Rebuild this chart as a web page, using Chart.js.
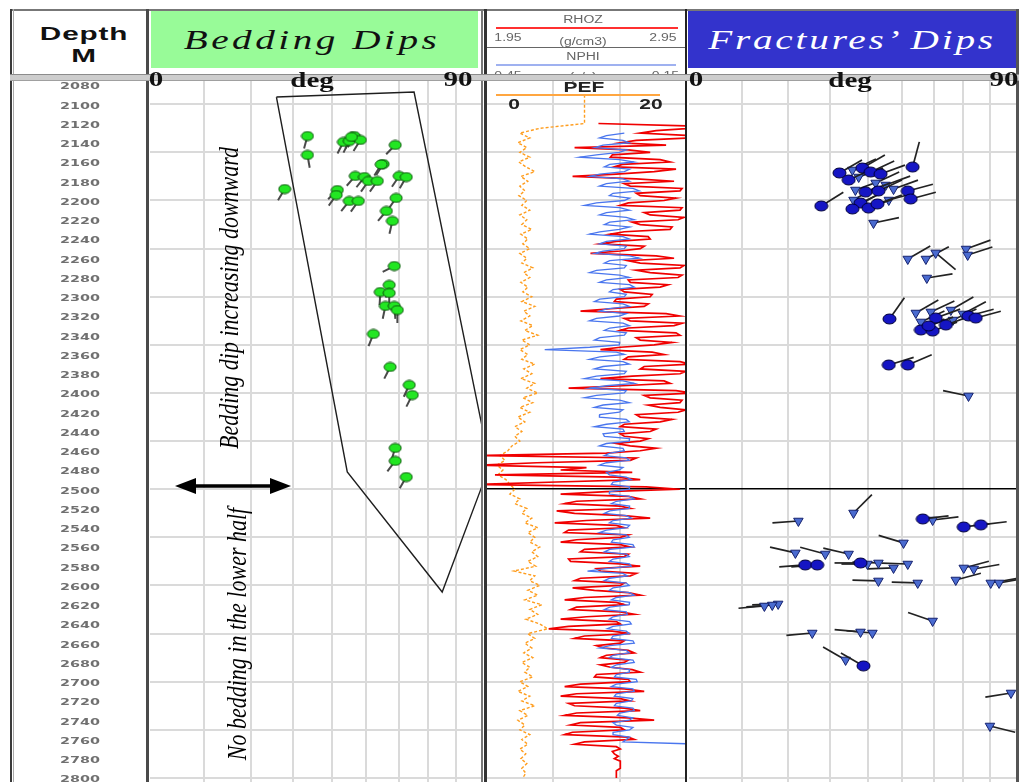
<!DOCTYPE html>
<html lang="en">
<head>
<meta charset="utf-8">
<title>Bedding and fracture dips</title>
<script src="https://cdn.jsdelivr.net/npm/chart.js@4.4.1/dist/chart.umd.min.js"></script>
<style>
  html, body { margin: 0; padding: 0; background: #fff; }
  body { width: 1019px; height: 782px; position: relative; overflow: hidden; }
  canvas { position: absolute; top: 80px; z-index: 1; }
  .box { position: absolute; z-index: 2; }
  .rule { position: absolute; z-index: 3; }
  .band { position: absolute; z-index: 4; }
  .t { position: absolute; z-index: 5; white-space: nowrap; line-height: 1; transform-origin: center; }
  .hd { font: bold 18px 'Liberation Sans', Arial, sans-serif; color: #111; letter-spacing: 0.5px; transform: translate(-50%, -50%) scaleX(1.65); }
  .title { font: italic 28px 'Liberation Serif', 'Times New Roman', serif; transform: translate(-50%, -50%) scaleX(1.4); }
  .scale { font: bold 20px 'Liberation Serif', 'Times New Roman', serif; color: #111; transform: translate(-50%, -50%) scaleX(1.45); }
  .small { font: 10px 'Liberation Sans', Arial, sans-serif; color: #666; transform: translate(-50%, -50%) scaleX(1.4); }
  .pef { font: bold 14px 'Liberation Sans', Arial, sans-serif; color: #222; transform: translate(-50%, -50%) scaleX(1.5); }
  .note { font: italic 22px 'Liberation Serif', 'Times New Roman', serif; color: #000; transform: translate(-50%, -50%) scaleX(1.2) rotate(-90deg); }
</style>
</head>
<body>

<!-- header cells -->
<div class="box" style="left:151px;top:11px;width:327px;height:57px;background:#98fb98"></div>
<div class="box" style="left:688px;top:11px;width:328px;height:57px;background:#3333cc"></div>
<div class="box" style="left:496px;top:27px;width:182px;height:2px;background:#ff3030"></div>
<div class="box" style="left:496px;top:64px;width:180px;height:2px;background:#9fb1f0"></div>
<div class="rule" style="left:487px;top:47px;width:198px;height:1px;background:#666"></div>

<div class="t hd" style="left:84px;top:34px">Depth</div>
<div class="t hd" style="left:84px;top:56px">M</div>
<div class="t title" style="left:312px;top:40px;letter-spacing:2.5px;color:#111">Bedding Dips</div>
<div class="t title" style="left:852px;top:40px;letter-spacing:2px;color:#fff">Fractures’ Dips</div>

<div class="t small" style="left:583px;top:19px">RHOZ</div>
<div class="t small" style="left:508px;top:37px">1.95</div>
<div class="t small" style="left:583px;top:41px">(g/cm3)</div>
<div class="t small" style="left:663px;top:37px">2.95</div>
<div class="t small" style="left:583px;top:56px">NPHI</div>
<div class="t small" style="left:508px;top:75px;z-index:3">0.45</div>
<div class="t small" style="left:583px;top:76px;z-index:3">(v/v)</div>
<div class="t small" style="left:663px;top:75px;z-index:3">-0.15</div>

<!-- scale band under the headers -->
<div class="band" style="left:10px;top:74px;width:1009px;height:5px;background:#cdcdcd;border-top:1px solid #8c8c8c;border-bottom:1px solid #a0a0a0"></div>
<div class="t scale" style="left:156px;top:79px">0</div>
<div class="t scale" style="left:312px;top:80px">deg</div>
<div class="t scale" style="left:458px;top:79px">90</div>
<div class="t scale" style="left:696px;top:79px">0</div>
<div class="t scale" style="left:850px;top:80px">deg</div>
<div class="t scale" style="left:1004px;top:79px">90</div>

<!-- PEF scale drawn inside the log track -->
<div class="t pef" style="left:584px;top:87px">PEF</div>
<div class="box" style="left:496px;top:94px;width:164px;height:2px;background:#ffa640;z-index:5"></div>
<div class="t pef" style="left:514px;top:104px">0</div>
<div class="t pef" style="left:651px;top:104px">20</div>

<!-- track frame -->
<div class="rule" style="left:10px;top:9px;width:1009px;height:2px;background:#777"></div>
<div class="rule" style="left:10px;top:9px;width:2px;height:773px;background:#3a3a3a"></div>
<div class="rule" style="left:13px;top:9px;width:1px;height:773px;background:#aaa"></div>
<div class="rule" style="left:146px;top:9px;width:3px;height:773px;background:#4a4a4a"></div>
<div class="rule" style="left:481px;top:9px;width:2px;height:773px;background:#777"></div>
<div class="rule" style="left:484px;top:9px;width:3px;height:773px;background:#333"></div>
<div class="rule" style="left:685px;top:9px;width:2px;height:773px;background:#222"></div>
<div class="rule" style="left:1016px;top:9px;width:3px;height:773px;background:#555"></div>

<canvas id="depthTrack" width="132" height="702" style="left:14px"></canvas>
<canvas id="beddingTrack" width="332" height="702" style="left:150px"></canvas>
<canvas id="logTrack" width="199" height="702" style="left:487px"></canvas>
<canvas id="fractureTrack" width="327" height="702" style="left:689px"></canvas>

<!-- interpretation notes on the bedding track -->
<div class="t note" style="left:230px;top:298px">Bedding dip increasing downward</div>
<div class="t note" style="left:238px;top:634px">No bedding in the lower half</div>
<svg style="position:absolute;left:170px;top:475px;z-index:5" width="126" height="22">
  <line x1="22" y1="11" x2="104" y2="11" stroke="#000" stroke-width="3.5"/>
  <polygon points="5,11 26,3 26,19" fill="#000"/>
  <polygon points="121,11 100,3 100,19" fill="#000"/>
</svg>

<script>
// ---- depth axis ----
const depthLabels = [2080, 2100, 2120, 2140, 2160, 2180, 2200, 2220, 2240, 2260, 2280, 2300, 2320, 2340,
  2360, 2380, 2400, 2420, 2440, 2460, 2480, 2500, 2520, 2540, 2560, 2580, 2600, 2620, 2640, 2660, 2680,
  2700, 2720, 2740, 2760, 2780, 2800];
const depthGrid = [2100, 2150, 2200, 2250, 2300, 2350, 2400, 2450, 2500, 2550, 2600, 2650, 2700, 2750, 2800];
const DEPTH_TOP = 2074.8;
const DEPTH_BOTTOM = 2804.2;
const TD_MARK = 2500;

// ---- dip scale gridlines (deg) ----
const dipGrid = [10, 20, 30, 40, 50, 60, 70, 80];
const logColumns = [1, 2];

// ---- bedding tadpoles ----
const bedDip = [33.6, 33.6, 27.9, 43.3, 45.0, 46.4, 48.2, 45.6, 58.9, 55.1, 54.5, 46.7, 49.4, 50.6, 53.3,
  60.2, 62.5, 41.6, 41.3, 45.0, 47.6, 59.2, 56.1, 58.0, 58.6, 57.0, 54.2, 57.0, 55.8, 58.6, 59.6, 52.1,
  57.3, 63.5, 64.5, 58.9, 58.9, 62.5];
const bedDepth = [2133.0, 2152.7, 2188.1, 2139.2, 2138.2, 2133.0, 2137.1, 2134.0, 2142.3, 2162.1, 2162.5,
  2174.5, 2175.6, 2179.7, 2179.7, 2174.5, 2175.6, 2189.1, 2194.3, 2200.5, 2200.5, 2197.4, 2210.9, 2221.3,
  2268.1, 2287.8, 2295.1, 2296.1, 2309.6, 2309.6, 2313.8, 2338.7, 2373.0, 2391.7, 2402.1, 2457.1, 2470.6, 2487.3];
const bedAzimuth = [195, 170, 211, 207, 207, 210, 212, 208, 224, 212, 212, 221, 218, 215, 215, 214, 210,
  225, 215, 219, 215, 215, 220, 193, 243, 196, 183, 180, 192, 175, 180, 202, 207, 205, 207, 197, 217, 210];

// envelope drawn around the bedding dips
const envDip = [25.9, 65.1, 93.2, 74.9, 44.4, 25.9];
const envDepth = [2092.5, 2087.3, 2474.8, 2606.8, 2482.1, 2092.5];

// ---- fracture tadpoles ('o' = conductive, 'v' = other) ----
const fracDip = [53.2, 32.4, 35.8, 38.5, 40.8, 43.6, 37.5, 42.2, 45.1, 36.6, 39.4, 43.0, 47.4, 51.7, 52.6,
  36.1, 38.0, 40.2, 42.7, 35.8, 27.8, 46.0, 41.6, 34.8,
  51.7, 57.4, 60.6, 71.0, 71.6, 57.7, 46.2, 54.2, 59.0, 65.7, 69.9, 55.8, 60.6, 64.0, 55.8, 59.6, 66.4,
  71.9, 74.5, 58.3, 46.0, 51.7, 71.9,
  22.3, 36.1, 56.4, 59.6, 70.2, 76.4, 50.4, 21.6, 28.8, 34.8, 23.9, 26.8, 38.0, 39.9, 43.0, 47.4, 51.7,
  70.2, 73.8, 43.0, 54.8, 67.4, 80.1, 83.3, 17.7, 16.4, 14.7, 59.6, 25.6, 38.0, 41.3, 34.0, 38.8, 88.0, 79.8];
const fracDepth = [2165.2, 2171.4, 2168.3, 2166.2, 2170.4, 2172.5, 2175.6, 2181.8, 2183.9, 2189.1, 2191.2,
  2190.1, 2188.1, 2190.1, 2198.4, 2199.5, 2202.6, 2207.8, 2203.6, 2208.8, 2205.7, 2199.5, 2223.4, 2178.7,
  2260.8, 2260.8, 2254.5, 2250.4, 2256.6, 2280.5, 2323.1, 2316.9, 2315.8, 2313.8, 2317.9, 2326.2, 2322.1,
  2329.4, 2334.5, 2335.6, 2324.2, 2320.0, 2322.1, 2330.4, 2370.9, 2370.9, 2403.1,
  2533.0, 2524.7, 2530.9, 2532.0, 2539.2, 2537.1, 2555.8, 2566.2, 2567.3, 2567.3, 2578.7, 2578.7, 2576.6,
  2577.7, 2576.6, 2581.8, 2577.7, 2581.8, 2582.9, 2595.3, 2597.4, 2594.3, 2597.4, 2597.4, 2619.2, 2620.3,
  2621.3, 2636.9, 2649.4, 2648.3, 2649.4, 2677.4, 2683.6, 2711.7, 2746.0];
const fracAzimuth = [15, 60, 65, 60, 65, 70, 70, 65, 70, 70, 70, 65, 70, 75, 75, 60, 65, 70, 70, 60, 58, 75, 78, 65,
  60, 62, 130, 70, 72, 81, 35, 60, 65, 60, 62, 65, 70, 70, 65, 70, 65, 75, 75, 70, 73, 67, 282,
  266, 45, 83, 83, 83, 83, 287, 283, 285, 283, 266, 266, 270, 270, 272, 268, 272, 75, 80, 272, 272, 75, 80,
  80, 268, 266, 265, 289, 265, 275, 275, 300, 300, 261, 104];
const fracKind = ['o','o','v','o','o','o','v','v','v','v','o','o','v','o','o','v','o','o','o','o','o','v','v','o',
  'v','v','v','v','v','v','o','v','v','v','v','v','o','o','o','o','v','o','o','o','o','o','v',
  'v','v','o','v','o','o','v','v','v','v','o','o','o','v','v','v','v','v','v','v','v','v','v','v','v','v',
  'v','v','v','v','v','v','o','v','v'];

// ---- log curves: top depth (m), sample step (m), values ----
const rhozTop = 2120, rhozStep = 2.5;
const rhoz = [
  2.51, 2.95, 2.98, 2.80, 2.72, 2.96, 2.97, 2.70, 2.62, 2.85, 2.39, 2.66, 2.77, 2.58, 2.57, 2.82,
  2.87, 2.63, 2.59, 2.90, 2.79, 2.60, 2.38, 2.70, 2.89, 2.64, 2.67, 2.93, 2.92, 2.70, 2.72, 2.90,
  2.84, 2.66, 2.62, 2.93, 2.92, 2.74, 2.77, 2.94, 2.91, 2.68, 2.72, 2.88, 2.87, 2.64, 2.57, 2.76,
  2.77, 2.60, 2.52, 2.74, 2.72, 2.62, 2.47, 2.80, 2.89, 2.66, 2.72, 2.94, 2.92, 2.70, 2.77, 2.93,
  2.91, 2.66, 2.67, 2.86, 2.82, 2.62, 2.64, 2.78, 2.77, 2.60, 2.59, 2.76, 2.74, 2.57, 2.42, 2.85,
  2.92, 2.64, 2.67, 2.93, 2.89, 2.66, 2.62, 2.90, 2.92, 2.70, 2.72, 2.88, 2.79, 2.62, 2.52, 2.78,
  2.84, 2.66, 2.64, 2.92, 2.97, 2.74, 2.72, 2.95, 2.92, 2.68, 2.52, 2.84, 2.87, 2.63, 2.36, 2.90,
  2.98, 2.74, 2.77, 2.93, 2.92, 2.76, 2.82, 2.95, 2.91, 2.70, 2.72, 2.88, 2.82, 2.64, 2.62, 2.80,
  2.77, 2.62, 2.64, 2.76, 2.72, 2.60, 2.67, 2.80, 2.72, 2.55, 1.90, 2.70, 2.67, 2.20, 1.92, 2.45,
  2.32, 2.68, 1.99, 2.60, 2.72, 2.30, 1.90, 2.75, 2.92, 2.55, 2.32, 2.66, 2.72, 2.40, 2.34, 2.62,
  2.67, 2.30, 2.39, 2.64, 2.77, 2.45, 2.29, 2.60, 2.64, 2.36, 2.34, 2.66, 2.62, 2.40, 2.32, 2.62,
  2.67, 2.44, 2.42, 2.66, 2.64, 2.36, 2.37, 2.62, 2.72, 2.50, 2.52, 2.70, 2.67, 2.42, 2.39, 2.64,
  2.62, 2.38, 2.49, 2.66, 2.72, 2.44, 2.34, 2.60, 2.64, 2.40, 2.37, 2.62, 2.69, 2.45, 2.32, 2.60,
  2.62, 2.36, 2.26, 2.58, 2.67, 2.44, 2.39, 2.64, 2.62, 2.50, 2.54, 2.66, 2.69, 2.55, 2.52, 2.66,
  2.64, 2.52, 2.57, 2.68, 2.72, 2.50, 2.49, 2.66, 2.67, 2.42, 2.34, 2.64, 2.74, 2.40, 2.32, 2.62,
  2.67, 2.36, 2.39, 2.64, 2.72, 2.40, 2.34, 2.66, 2.79, 2.42, 2.37, 2.62, 2.64, 2.38, 2.34, 2.66,
  2.69, 2.44, 2.39, 2.60, 2.62, 2.58, 2.59, 2.61, 2.59, 2.62, 2.62, 2.62, 2.62, 2.60, 2.60, 2.60,
  2.60];
const nphiTop = 2130, nphiStep = 2.5;
const nphi = [
  0.036, 0.090, 0.111, 0.040, 0.021, 0.100, 0.126, 0.030, 0.051, 0.120, 0.171, 0.050, 0.006, 0.080,
  0.096, 0.020, 0.036, 0.110, 0.141, 0.040, 0.021, 0.090, 0.111, 0.010, -0.009, 0.070, 0.081, 0.020,
  0.036, 0.120, 0.156, 0.050, 0.021, 0.090, 0.111, 0.030, 0.006, 0.080, 0.096, 0.020, 0.051, 0.110,
  0.141, 0.040, 0.021, 0.090, 0.111, 0.030, 0.036, 0.100, 0.126, 0.020, -0.009, 0.080, 0.096, 0.030,
  0.036, 0.120, 0.141, 0.050, 0.021, 0.090, 0.111, 0.020, 0.006, 0.070, 0.081, 0.030, 0.036, 0.110,
  0.126, 0.040, 0.021, 0.090, 0.111, 0.030, 0.051, 0.120, 0.141, 0.040, 0.021, 0.080, 0.096, 0.030,
  0.036, 0.110, 0.126, 0.050, 0.051, 0.140, 0.276, 0.060, 0.036, 0.110, 0.141, 0.040, 0.021, 0.100,
  0.126, 0.030, 0.036, 0.120, 0.156, 0.040, 0.006, 0.090, 0.141, 0.030, 0.036, 0.120, 0.156, 0.050,
  0.021, 0.100, 0.126, 0.040, 0.051, 0.110, 0.111, 0.030, 0.021, 0.090, 0.126, 0.040, 0.036, 0.100,
  0.096, 0.020, 0.021, 0.090, 0.111, 0.040, 0.036, 0.080, 0.096, 0.030, 0.021, 0.090, 0.111, 0.040,
  0.051, 0.090, 0.081, 0.030, 0.015, 0.070, 0.075, 0.020, 0.021, 0.080, 0.081, 0.020, 0.006, 0.060,
  0.075, 0.020, 0.021, 0.080, 0.096, 0.030, 0.015, 0.070, 0.081, 0.020, 0.027, 0.090, 0.111, 0.030,
  0.021, 0.070, 0.075, 0.010, 0.006, 0.080, 0.096, 0.030, 0.021, 0.070, 0.081, 0.020, 0.015, 0.090,
  0.147, 0.040, 0.027, 0.080, 0.096, 0.030, 0.021, 0.070, 0.081, 0.020, 0.006, 0.060, 0.075, 0.020,
  0.021, 0.080, 0.096, 0.030, 0.027, 0.070, 0.081, 0.020, 0.015, 0.070, 0.087, 0.030, 0.021, 0.070,
  0.075, 0.010, 0.006, 0.080, 0.111, 0.030, 0.021, 0.070, 0.081, 0.010, 0.006, 0.060, 0.075, 0.020,
  0.021, 0.060, 0.066, 0.000, -0.003, 0.060, 0.075, 0.010, 0.006, 0.060, 0.066, 0.010, 0.015, 0.060,
  0.066, 0.010, 0.006, 0.050, 0.057, 0.010, 0.021, 0.070, 0.060, 0.010, 0.020, 0.070, 0.070, 0.020,
  0.030, 0.040, -0.200];
const pefTop = 2090, pefStep = 5;
const pef = [9.8, 9.8, 9.8, 9.8, 9.8, 9.8, 9.8,
  5.3, 3.3, 4.3, 3.1, 4.0, 3.3, 4.3, 3.2, 3.9, 4.8, 3.4, 4.1, 3.3, 3.8, 3.2, 4.0, 3.5, 4.3, 3.3, 4.0, 3.5,
  4.5, 3.4, 4.1, 3.6, 4.3, 3.3, 4.0, 3.5, 4.6, 3.7, 4.3, 3.4, 4.1, 3.6, 4.5, 3.5, 4.8, 3.7, 4.3, 3.4, 4.6,
  3.8, 5.1, 3.5, 4.3, 3.3, 4.1, 3.5, 4.8, 3.7, 4.5, 3.4, 4.8, 4.0, 5.1, 3.6, 4.6, 3.3, 4.3, 3.1, 3.8, 2.8,
  3.5, 2.8, 3.3, 2.5, 2.1, 1.3, 1.8, 1.0, 1.6, 1.1, 1.9, 2.3, 2.8, 2.3, 3.3, 2.8, 4.0, 3.5, 4.5, 3.8, 5.1,
  4.1, 4.8, 4.3, 5.3, 4.5, 5.1, 4.1, 4.9, 2.7, 4.8, 4.3, 5.3, 4.1, 5.1, 3.8, 5.5, 4.3, 5.1, 3.9, 5.3, 6.1,
  4.1, 4.8, 3.8, 4.5, 3.7, 4.6, 3.5, 4.3, 3.8, 4.6, 3.3, 4.1, 3.1, 4.3, 3.5, 4.8, 3.3, 4.1, 3.1, 3.8, 3.3,
  4.3, 3.5, 4.1, 3.3, 3.9, 3.4, 4.0, 3.5, 3.9, 3.6];

// ---------------------------------------------------------------------------
Chart.defaults.animation = false;
Chart.defaults.responsive = false;
Chart.defaults.devicePixelRatio = 1;
Chart.defaults.events = [];
Chart.defaults.plugins.legend.display = false;
Chart.defaults.plugins.tooltip.enabled = false;

// every track shares one depth-to-pixel mapping, so no automatic padding
const TRACK_LAYOUT = { autoPadding: false, padding: 0 };

// Dip axis: compressed toward steep dips, position ~ ln(1 + dip/70)
const DIP_K = 70;
class DipScale extends Chart.LinearScale {
  getPixelForValue(value) {
    const t = Math.log(1 + value / DIP_K) / Math.log(1 + this.max / DIP_K);
    return this.getPixelForDecimal(t);
  }
  getValueForPixel(pixel) {
    const t = this.getDecimalForPixel(pixel);
    return DIP_K * (Math.pow(1 + this.max / DIP_K, t) - 1);
  }
}
DipScale.id = 'dip';
DipScale.defaults = Chart.LinearScale.defaults;
Chart.register(DipScale);

// Tadpole tails: a stick from each head toward its dip azimuth (north up)
const tadpoleTails = {
  id: 'tadpoleTails',
  beforeDatasetDraw(chart, args) {
    const ds = chart.data.datasets[args.index];
    if (!ds.azimuths) return;
    const ctx = chart.ctx, a = chart.chartArea;
    ctx.save();
    ctx.beginPath();
    ctx.rect(a.left, a.top, a.right - a.left, a.bottom - a.top);
    ctx.clip();
    ctx.strokeStyle = ds.tailColor;
    ctx.lineWidth = ds.tailWidth;
    args.meta.data.forEach((pt, i) => {
      const r = ds.azimuths[i] * Math.PI / 180;
      ctx.beginPath();
      ctx.moveTo(pt.x, pt.y);
      ctx.lineTo(pt.x + Math.sin(r) * ds.tailLength, pt.y - Math.cos(r) * ds.tailLength);
      ctx.stroke();
    });
    ctx.restore();
  }
};

// Wide depth numerals: the label layer is stretched horizontally from its left edge
const LABEL_LEFT = 46;
const LABEL_FONT = { family: 'DejaVu Sans', weight: 'bold', size: 9 };
const LABEL_WIDTH = 40;
const stretchedLabels = {
  id: 'stretchedLabels',
  beforeDraw(chart) {
    const ctx = chart.ctx;
    ctx.save();
    ctx.font = 'bold 9px "DejaVu Sans"';
    const w = ctx.measureText('2080').width || 25;
    const k = LABEL_WIDTH / w;
    ctx.translate(LABEL_LEFT, 0);
    ctx.scale(k, 1);
    ctx.translate(-LABEL_LEFT, 0);
  },
  afterDraw(chart) { chart.ctx.restore(); }
};

function headImage(w, h, fill, stroke) {
  const c = document.createElement('canvas');
  c.width = w + 2; c.height = h + 2;
  const g = c.getContext('2d');
  g.beginPath();
  g.ellipse(c.width / 2, c.height / 2, w / 2, h / 2, 0, 0, Math.PI * 2);
  g.fillStyle = fill; g.fill();
  g.lineWidth = 1; g.strokeStyle = stroke; g.stroke();
  return c;
}

function depthScale(markTD) {
  return {
    type: 'linear', reverse: true, min: DEPTH_TOP, max: DEPTH_BOTTOM, position: 'left',
    border: { display: false },
    ticks: { display: false },
    grid: {
      drawTicks: false,
      color: c => (markTD && c.tick && c.tick.value === TD_MARK) ? '#000' : '#dadada',
      lineWidth: c => (markTD && c.tick && c.tick.value === TD_MARK) ? 1.6 : 2
    },
    afterBuildTicks: s => { s.ticks = depthGrid.map(v => ({ value: v })); },
    afterFit: s => { s.paddingTop = 0; s.paddingBottom = 0; }
  };
}

function dipScale() {
  return {
    type: 'dip', min: 0, max: 90, position: 'top', axis: 'x',
    border: { display: false },
    ticks: { display: false },
    grid: { drawTicks: false, color: '#dadada', lineWidth: 2 },
    afterBuildTicks: s => { s.ticks = dipGrid.map(v => ({ value: v })); },
    afterFit: s => { s.height = 0; s.paddingLeft = 0; s.paddingRight = 0; }
  };
}

const points = (xs, ys) => xs.map((x, i) => ({ x: x, y: ys[i] }));
const curve = (top, step, values) => values.map((v, i) => ({ x: v, y: top + i * step }));

// ---- depth column ----
new Chart(document.getElementById('depthTrack'), {
  type: 'scatter',
  data: { datasets: [] },
  options: {
    layout: { autoPadding: false, padding: { left: LABEL_LEFT, right: 0, top: 0, bottom: 0 } },
    scales: {
      x: { display: false, min: 0, max: 1 },
      y: {
        type: 'linear', reverse: true, min: DEPTH_TOP, max: DEPTH_BOTTOM, position: 'left',
        border: { display: false },
        grid: { display: false, drawTicks: false },
        ticks: {
          crossAlign: 'far', padding: 0, labelOffset: 2, autoSkip: false, color: '#707070',
          font: LABEL_FONT,
          callback: v => String(v)
        },
        afterBuildTicks: s => { s.ticks = depthLabels.map(v => ({ value: v })); },
        afterFit: s => { s.paddingTop = 0; s.paddingBottom = 0; }
      }
    }
  },
  plugins: [stretchedLabels]
});

// ---- bedding dips ----
new Chart(document.getElementById('beddingTrack'), {
  type: 'scatter',
  data: {
    datasets: [
      {
        label: 'Bedding dip', data: points(bedDip, bedDepth),
        pointStyle: headImage(12, 9, '#22e622', '#0b4d0b'), pointRadius: 5,
        azimuths: bedAzimuth, tailColor: '#4a4a4a', tailWidth: 2, tailLength: 13, order: 0
      },
      {
        label: 'Envelope', data: points(envDip, envDepth), showLine: true,
        borderColor: '#1e1e1e', borderWidth: 1.4, pointRadius: 0, tension: 0, order: 1
      }
    ]
  },
  options: {
    layout: TRACK_LAYOUT,
    scales: { x: dipScale(), y: depthScale(false) }
  },
  plugins: [tadpoleTails]
});

// ---- log curves ----
new Chart(document.getElementById('logTrack'), {
  type: 'scatter',
  data: {
    datasets: [
      {
        label: 'NPHI', data: curve(nphiTop, nphiStep, nphi), xAxisID: 'nphi', showLine: true,
        borderColor: '#4a76ee', borderWidth: 1.3, pointRadius: 0, order: 0
      },
      {
        label: 'RHOZ', data: curve(rhozTop, rhozStep, rhoz), xAxisID: 'rhoz', showLine: true,
        borderColor: '#f00000', borderWidth: 1.7, pointRadius: 0, order: 1
      },
      {
        label: 'PEF', data: curve(pefTop, pefStep, pef), xAxisID: 'pef', showLine: true,
        borderColor: '#ff9d1e', borderWidth: 1.4, borderDash: [3, 2], pointRadius: 0, order: 2
      }
    ]
  },
  options: {
    layout: TRACK_LAYOUT,
    scales: {
      cols: {
        type: 'linear', axis: 'x', position: 'top', min: 0, max: 3,
        border: { display: false }, ticks: { display: false },
        grid: { drawTicks: false, color: '#dadada', lineWidth: 2 },
        afterBuildTicks: s => { s.ticks = logColumns.map(v => ({ value: v })); },
        afterFit: s => { s.height = 0; s.paddingLeft = 0; s.paddingRight = 0; }
      },
      rhoz: { type: 'linear', axis: 'x', position: 'top', min: 1.95, max: 2.95, display: false },
      nphi: { type: 'linear', axis: 'x', position: 'top', min: -0.15, max: 0.45, reverse: true, display: false },
      pef: { type: 'linear', axis: 'x', position: 'top', min: 0, max: 20, display: false },
      y: depthScale(true)
    }
  }
});

// ---- fracture dips ----
const fracSet = kind => {
  const idx = fracKind.map((k, i) => k === kind ? i : -1).filter(i => i >= 0);
  return {
    data: idx.map(i => ({ x: fracDip[i], y: fracDepth[i] })),
    az: idx.map(i => fracAzimuth[i])
  };
};
const fracOpen = fracSet('v');
const fracCond = fracSet('o');

new Chart(document.getElementById('fractureTrack'), {
  type: 'scatter',
  data: {
    datasets: [
      {
        label: 'Conductive fracture', data: fracCond.data,
        pointStyle: headImage(13, 10, '#1515c4', '#000038'), pointRadius: 6,
        azimuths: fracCond.az, tailColor: '#222', tailWidth: 1.7, tailLength: 26, order: 0
      },
      {
        label: 'Fracture', data: fracOpen.data,
        pointStyle: 'triangle', rotation: 180, pointRadius: 5.5,
        backgroundColor: '#4a6bd0', borderColor: '#16226e', borderWidth: 1,
        azimuths: fracOpen.az, tailColor: '#222', tailWidth: 1.7, tailLength: 26, order: 1
      }
    ]
  },
  options: {
    layout: TRACK_LAYOUT,
    scales: { x: dipScale(), y: depthScale(true) }
  },
  plugins: [tadpoleTails]
});
</script>
</body>
</html>
